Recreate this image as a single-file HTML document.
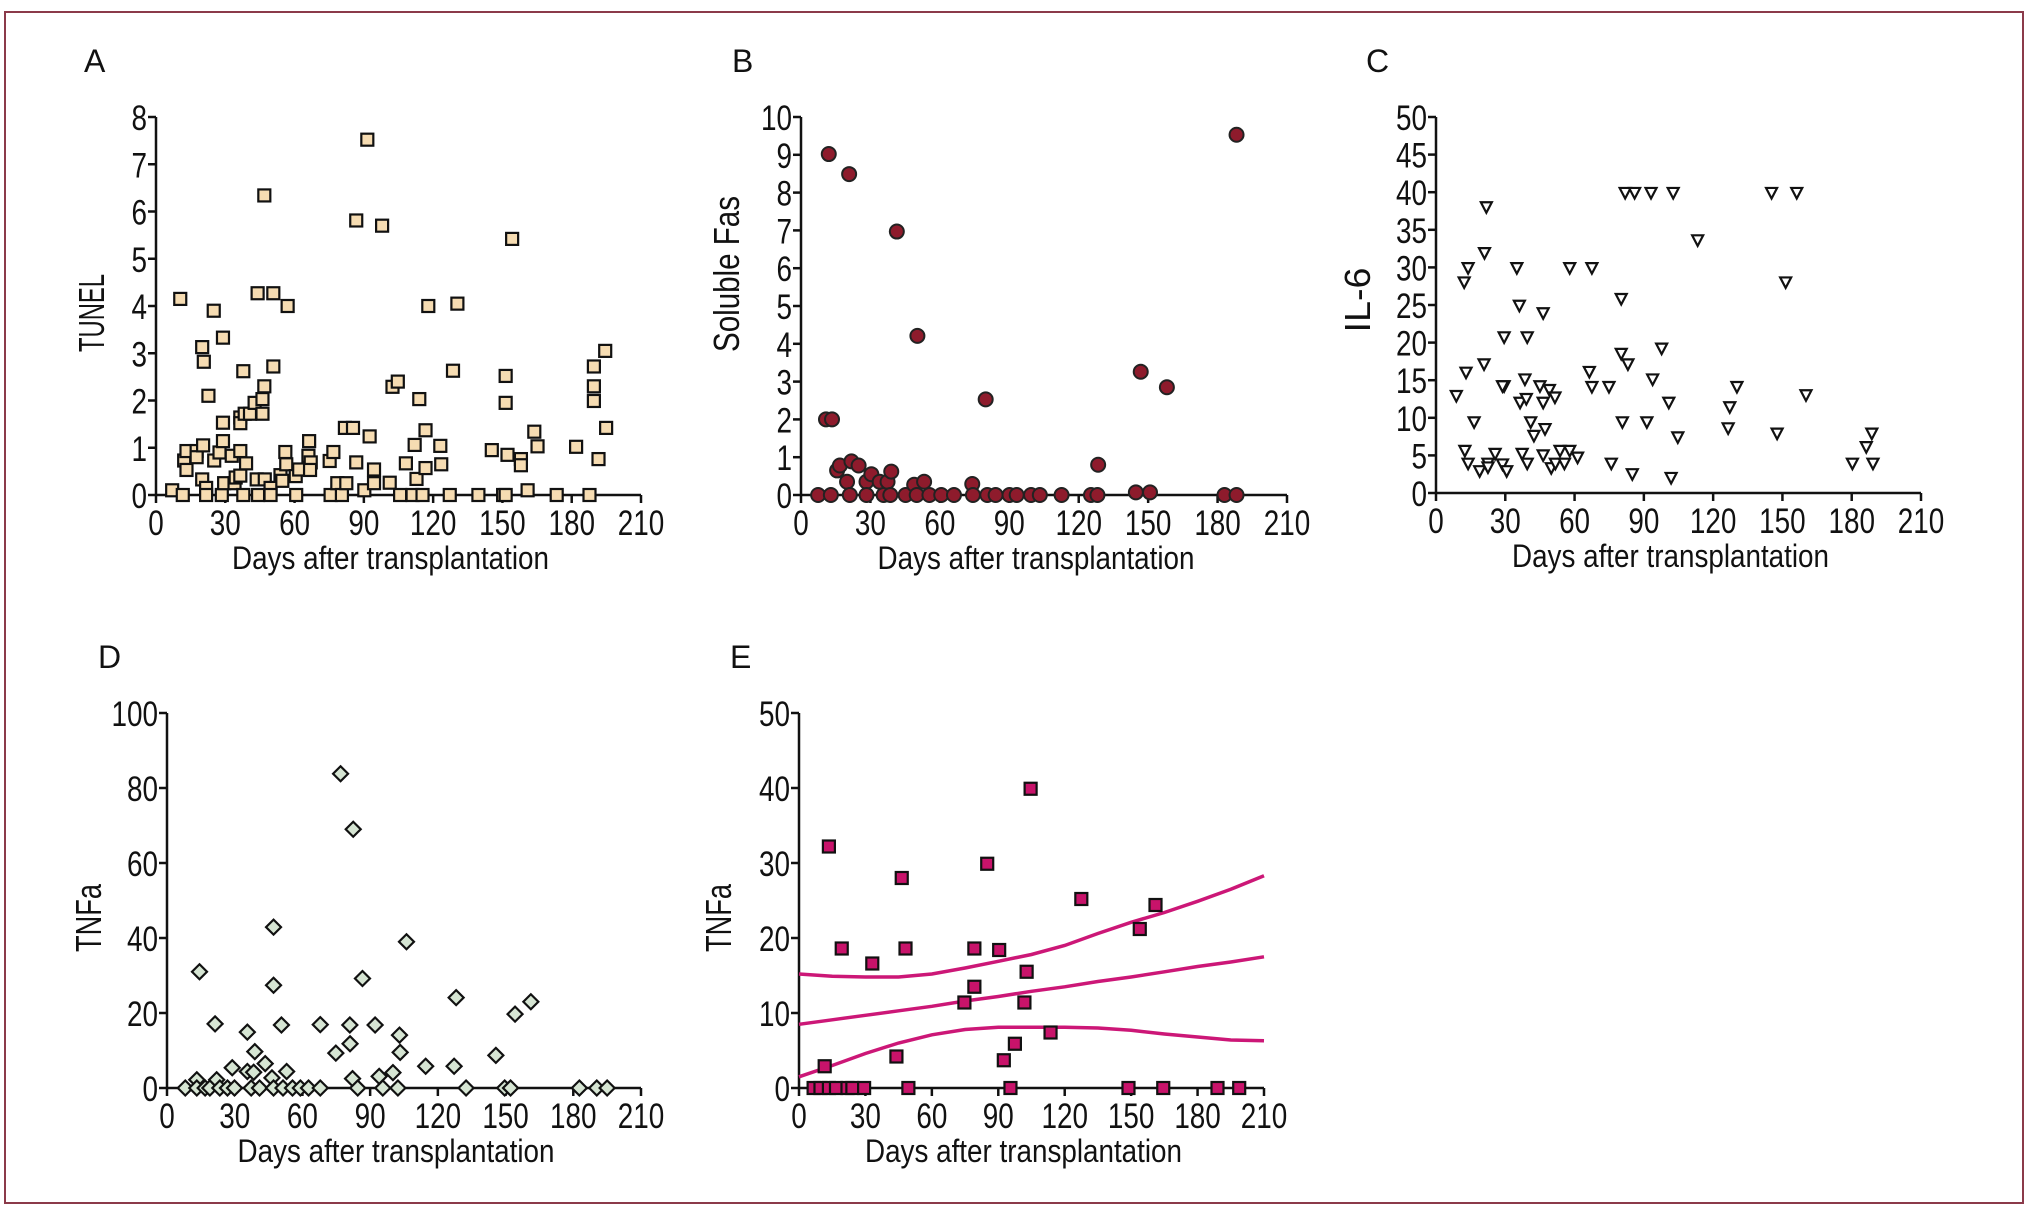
<!DOCTYPE html>
<html><head><meta charset="utf-8"><style>
html,body{margin:0;padding:0;background:#fff;}
svg{display:block;font-family:"Liberation Sans Narrow","Liberation Sans",sans-serif;}
</style></head><body>
<svg id="fig" width="2033" height="1208" viewBox="0 0 2033 1208" xmlns="http://www.w3.org/2000/svg">
<rect x="5" y="12" width="2018" height="1191" fill="none" stroke="#8b3a4a" stroke-width="2"/>
</svg>
<script>
const xTicks=[0,30,60,90,120,150,180,210];
const tunelDays=[7,10.5,11.6,12.2,13.2,13.2,17.6,17.6,20,20.7,20.4,20,21.7,21.7,22.7,25,25.2,27.5,29,29,29,28.5,29.5,32.8,34,34.5,36.5,36.5,36.5,36.5,37.8,37.8,38.4,39,40.7,42.7,44,43.6,44.2,46.1,46.1,46.9,46.9,47.1,49.6,49.6,50.8,50.8,53.9,54.7,56,56.4,57,60.5,60.7,62,66,66.3,67,66.7,75.2,75.6,76.8,78.5,80.5,82.4,81.8,85.3,86.7,86.7,90.2,91.5,92.5,94.4,94.4,97.9,101.2,102.4,104.7,105.7,108.2,111.1,112,112.8,114,115.4,116.7,116.7,117.9,123.1,123.5,127.2,128.6,130.5,139.6,145.4,150.3,151.4,151.4,151.4,152.2,154.2,158,158,160.9,163.8,165.2,173.5,181.9,187.7,189.6,189.6,189.6,191.6,194.5,194.9];
const tunelVals=[0.1,4.15,0,0.73,0.93,0.53,0.93,0.8,3.13,2.82,1.05,0.33,0.15,0,2.1,3.9,0.73,0.9,3.33,1.53,1.14,0,0.25,0.83,0.25,0.37,1.64,1.52,0.93,0.41,2.62,0,1.72,0.67,1.72,1.95,4.27,0.33,0,2.03,1.72,2.3,6.34,0.33,0.15,0,4.27,2.72,0.42,0.3,0.91,0.65,4.0,0.4,0,0.54,0.83,1.14,0.69,0.53,0.72,0,0.91,0.25,0,0.25,1.42,1.42,0.69,5.81,0.1,7.52,1.24,0.54,0.25,5.7,0.26,2.29,2.4,0,0.67,0,1.06,0.34,2.03,0,1.37,0.57,4.0,1.04,0.65,0,2.63,4.05,0,0.95,0,0,2.52,1.95,0.85,5.42,0.76,0.63,0.1,1.34,1.03,0,1.02,0,2.72,2.3,1.99,0.76,3.05,1.42];
const fasDays=[7.4,10.8,12,12.9,13.4,15.6,16.8,19.9,20.8,21.1,21.8,24.9,28.3,28.3,30.4,34,35.7,37.4,38.6,39,41.4,45.2,48.9,50,50.3,53.2,55.5,60.6,66.1,74,74.3,79.8,80.5,84.1,90.1,93.2,99.4,103.2,112.6,125.3,128.1,128.4,144.7,146.8,150.8,158.1,183,188.2,188.2];
const fasVals=[0,2.0,9.02,0,2.0,0.65,0.78,0.35,8.49,0,0.89,0.78,0.35,0,0.55,0.35,0,0.35,0,0.62,6.97,0,0.27,0,4.21,0.35,0,0,0,0.29,0,2.53,0,0,0,0,0,0,0,0,0,0.8,0.07,3.26,0.07,2.85,0,0,9.53];
const il6Days=[8.8,12.2,13.9,13,16.5,12.5,13.9,18.9,20.8,21,21.8,22.5,22.5,25.6,28.8,29.5,29.5,28.8,30.6,35,36.1,36.4,37.3,38.5,39.1,39.5,39.5,41,42.4,45,46.4,46.4,46.4,47.2,49.1,49.9,51.5,51.7,53.7,55.6,57.9,57.9,61.3,66.4,67.5,67.5,74.9,75.9,80.2,80.2,80.7,81.9,83.1,85,86,91.3,93.1,93.8,97.7,100.8,101.8,102.7,104.7,113.3,126.5,127.2,130.3,145.3,147.7,151.4,156.2,160.2,180.3,186.3,188.7,189.2];
const il6Vals=[12.9,28,29.9,16,9.4,5.6,3.9,2.9,17.1,31.9,38,3.9,3.4,5.2,3.8,20.7,14.2,14.2,2.9,29.9,24.9,12,5.2,15.1,12.5,20.7,3.9,9.4,7.6,14.2,23.9,12,5,8.5,13.7,3.3,12.7,3.9,5.6,3.9,29.9,5.6,4.7,16.1,29.9,14.1,14.1,3.9,25.8,18.5,9.4,39.9,17.1,2.5,39.9,9.4,39.9,15.1,19.2,12,2,39.9,7.4,33.6,8.6,11.4,14.1,39.9,7.9,28,39.9,13,3.9,6.1,7.9,3.9];
const tnfDDays=[8.1,13.2,13.2,14.4,16.9,19,21.3,22,23.4,26.8,28.9,29.9,35.6,35.6,37.3,38.4,38.9,41,43.5,46.5,47.2,47.2,47.2,50.7,51.4,53,55.6,59.1,62.7,67.9,67.9,74.8,76.9,81,81.1,82.2,82.5,84.5,86.6,92.2,94,95.6,100.1,102.3,103,103.3,106.1,114.6,127.2,128.1,132.5,145.7,149.6,152.2,154.2,161.2,182.7,190.4,195];
const tnfDVals=[0,2.2,0,31,0,0,17.1,2.2,0,0,5.4,0,14.9,4.4,0,4.2,9.7,0,6.5,2.7,42.9,27.4,0,16.8,0,4.4,0,0,0,16.9,0,9.3,83.8,16.8,11.8,2.5,69,0,29.2,16.8,3.1,0,4.1,0,14.1,9.5,39,5.8,5.8,24.1,0,8.7,0,0,19.7,23,0,0,0];
const tnfEDays=[6.6,9.7,11.6,13.5,13.5,16.7,19.3,21.9,24.1,29.4,33.1,44,46.4,48.1,49.4,74.7,79.2,79.2,85,90.4,92.5,95.5,97.5,101.8,102.8,104.6,113.6,127.5,148.8,153.9,161,164.5,189,198.8];
const tnfEVals=[0,0,2.9,0,32.2,0,18.6,0,0,0,16.6,4.2,28,18.6,0,11.4,18.6,13.5,29.9,18.4,3.7,0,5.9,11.4,15.5,39.9,7.4,25.2,0,21.2,24.4,0,0,0];
const fitDays=[0,15,30,45,60,75,90,105,120,135,150,165,180,195,210];
const fitMid=[8.5,9.1,9.7,10.3,10.9,11.6,12.2,12.9,13.5,14.2,14.8,15.5,16.2,16.8,17.5];
const fitUpper=[15.2,14.9,14.8,14.8,15.2,16.0,16.9,17.8,19.0,20.6,22.1,23.4,24.9,26.5,28.3];
const fitLower=[1.5,3.0,4.6,6.0,7.1,7.8,8.1,8.1,8.1,8.0,7.7,7.2,6.8,6.4,6.3];

const NS='http://www.w3.org/2000/svg';
const svg=document.getElementById('fig');
function mk(tag,attrs,parent){const e=document.createElementNS(NS,tag);for(const k in attrs)e.setAttribute(k,attrs[k]);(parent||svg).appendChild(e);return e;}

function panel(o){
  const g=mk('g',{});
  
  
  const sx=d=>o.x0+(d/210)*(o.x1-o.x0);
  const sy=v=>o.y0-(v/o.ymax)*(o.y0-o.y1);
  const lt=mk('text',{x:o.lx,y:o.ly,'font-size':32,fill:'#111'},g);lt.textContent=o.letter;
  
  
  const ax=mk('g',{stroke:'#111','stroke-width':2.5,fill:'none'},g);
  
  
  mk('line',{x1:o.x0,y1:o.y0,x2:o.x1,y2:o.y0},ax);
  mk('line',{x1:o.x0,y1:o.y0,x2:o.x0,y2:o.y1},ax);
  xTicks.forEach(t=>{
    mk('line',{x1:sx(t),y1:o.y0,x2:sx(t),y2:o.y0+8},ax);
    const s=String(t);
    const tx=mk('text',{x:sx(t),y:o.y0+40,'font-size':35,'text-anchor':'middle',fill:'#111',textLength:15.5*s.length,lengthAdjust:'spacingAndGlyphs'},g);tx.textContent=s;
    
    
  });
  o.yt.forEach(t=>{
    mk('line',{x1:o.x0,y1:sy(t),x2:o.x0-8,y2:sy(t)},ax);
    const s=String(t);
    const ty=mk('text',{x:o.x0-9,y:sy(t)+13,'font-size':35,'text-anchor':'end',fill:'#111',textLength:15.5*s.length,lengthAdjust:'spacingAndGlyphs'},g);ty.textContent=s;
    
    
  });
  const xt=mk('text',{x:(o.x0+o.x1)/2-8,y:o.y0+74,'font-size':32,'text-anchor':'middle',fill:'#111',textLength:317,lengthAdjust:'spacingAndGlyphs'},g);
  xt.textContent='Days after transplantation';
  
  
  const yx=o.x0+o.ytx, yy=o.yty;
  const yt=mk('text',{x:yx,y:yy,'font-size':36,'text-anchor':'middle',fill:'#111',transform:`rotate(-90 ${yx} ${yy})`,textLength:o.ytl,lengthAdjust:'spacingAndGlyphs'},g);
  yt.textContent=o.ytitle;
  
  
  if(o.fits){
    o.fits.forEach((arr,i)=>{
      const d=fitDays.map((dd,j)=>(j?'L':'M')+sx(dd).toFixed(1)+','+sy(arr[j]).toFixed(1)).join(' ');
      const p=mk('path',{d:d,fill:'none',stroke:'#cc1777','stroke-width':3.5},g);
      
      
    });
  }
  o.days.forEach((d,i)=>{
    const cx=sx(d), cy=sy(o.vals[i]);let m;
    if(o.marker==='square') m=mk('rect',{x:cx-6,y:cy-6,width:12,height:12,fill:o.fill,stroke:'#111','stroke-width':2.2},g);
    else if(o.marker==='circle') m=mk('circle',{cx:cx,cy:cy,r:7,fill:o.fill,stroke:'#222','stroke-width':2},g);
    else if(o.marker==='tri') m=mk('path',{d:`M${cx-5.5},${cy-5} L${cx+5.5},${cy-5} L${cx},${cy+5.5} Z`,fill:'#fff',stroke:'#111','stroke-width':2.2},g);
    else m=mk('path',{d:`M${cx},${cy-7.5} L${cx+7.5},${cy} L${cx},${cy+7.5} L${cx-7.5},${cy} Z`,fill:o.fill,stroke:'#111','stroke-width':2.2},g);
    
    
  });
}
panel({id:'a',letter:'A',lx:84,ly:72,x0:156,x1:641,y0:495,y1:117,ymax:8,yt:[0,1,2,3,4,5,6,7,8],ytitle:'TUNEL',ytx:-52,yty:313,ytl:78,days:tunelDays,vals:tunelVals,marker:'square',fill:'#f6dcb2'});
panel({id:'b',letter:'B',lx:732,ly:72,x0:801,x1:1287,y0:495,y1:117,ymax:10,yt:[0,1,2,3,4,5,6,7,8,9,10],ytitle:'Soluble Fas',ytx:-62,yty:274,ytl:156,days:fasDays,vals:fasVals,marker:'circle',fill:'#8e1b2c'});
panel({id:'c',letter:'C',lx:1366,ly:72,x0:1436,x1:1921,y0:493,y1:117,ymax:50,yt:[0,5,10,15,20,25,30,35,40,45,50],ytitle:'IL-6',ytx:-66,yty:300,ytl:65,days:il6Days,vals:il6Vals,marker:'tri'});
panel({id:'d',letter:'D',lx:98,ly:668,x0:167,x1:641,y0:1088,y1:713,ymax:100,yt:[0,20,40,60,80,100],ytitle:'TNFa',ytx:-66,yty:918,ytl:68,days:tnfDDays,vals:tnfDVals,marker:'diamond',fill:'#d6e5d3'});
panel({id:'e',letter:'E',lx:730,ly:668,x0:799,x1:1264,y0:1088,y1:713,ymax:50,yt:[0,10,20,30,40,50],ytitle:'TNFa',ytx:-68,yty:918,ytl:68,days:tnfEDays,vals:tnfEVals,marker:'square',fill:'#c8136a',fits:[fitMid,fitUpper,fitLower]});
</script>
</body></html>
